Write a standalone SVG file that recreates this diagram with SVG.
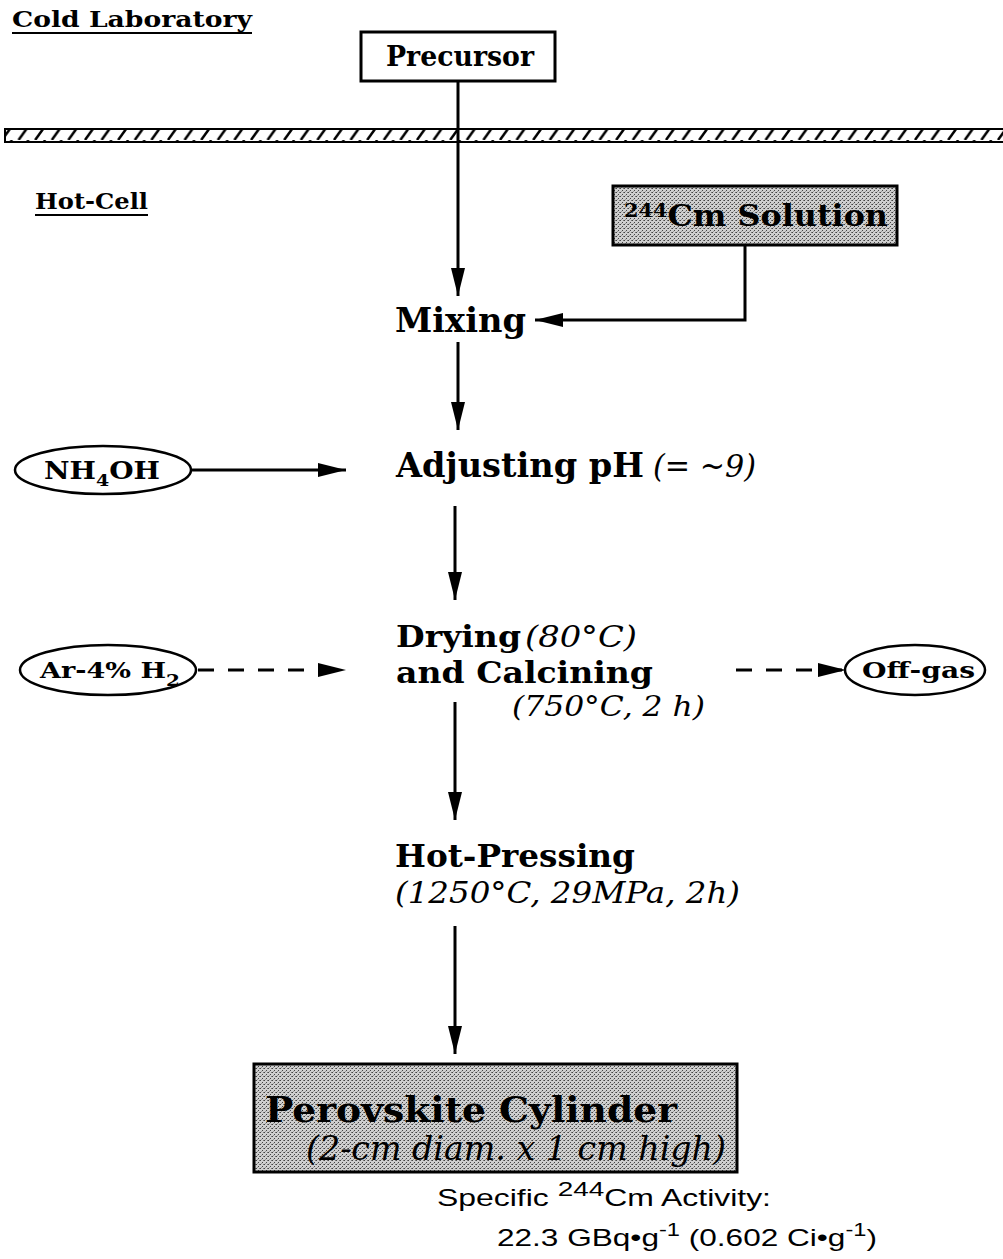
<svg xmlns="http://www.w3.org/2000/svg" width="1003" height="1259" viewBox="0 0 1003 1259">
<style>
.lbl{font-family:"DejaVu Serif","Liberation Serif",serif;font-weight:bold;fill:#000}
.it{font-family:"DejaVu Serif","Liberation Serif",serif;font-style:italic;font-weight:normal;fill:#000}
.sans{font-family:"Liberation Sans",Arial,sans-serif;fill:#000}
.ln{stroke:#000;stroke-width:3;fill:none}
.dash{stroke:#000;stroke-width:3;fill:none;stroke-dasharray:16 14}
.box{stroke:#000;stroke-width:3}
</style>
<defs>
<marker id="ah" markerWidth="30" markerHeight="14" refX="28" refY="7" orient="auto" markerUnits="userSpaceOnUse">
<path d="M0,0 L28,7 L0,14 Z" fill="#000"/>
</marker>
<pattern id="hatch" width="16.6" height="14" patternUnits="userSpaceOnUse">
<rect width="16.6" height="14" fill="#fff"/>
<line x1="2" y1="14" x2="12" y2="0" stroke="#000" stroke-width="2.5"/>
</pattern>
<pattern id="stip" width="4" height="4" patternUnits="userSpaceOnUse">
<rect width="4" height="4" fill="#cfcfcf"/>
<rect x="0" y="0" width="1" height="1" fill="#444"/>
<rect x="2" y="2" width="1" height="1" fill="#444"/>
<rect x="3" y="0" width="1" height="1" fill="#777"/>
<rect x="1" y="3" width="1" height="1" fill="#999"/>
</pattern>
</defs>
<rect width="1003" height="1259" fill="#fff"/>

<g id="zones">
<text class="lbl" x="12" y="27" font-size="23" textLength="240" lengthAdjust="spacingAndGlyphs">Cold Laboratory</text>
<line x1="12" y1="33" x2="252" y2="33" stroke="#000" stroke-width="2"/>
<rect x="5" y="129" width="1000" height="13" fill="url(#hatch)" stroke="#000" stroke-width="2"/>
<text class="lbl" x="35" y="209" font-size="23" textLength="113" lengthAdjust="spacingAndGlyphs">Hot-Cell</text>
<line x1="35" y1="215" x2="148" y2="215" stroke="#000" stroke-width="2"/>
</g>

<g id="precursor">
<rect x="361" y="32" width="194" height="49" fill="#fff" class="box"/>
<text class="lbl" x="460" y="66" font-size="27" text-anchor="middle" textLength="148" lengthAdjust="spacingAndGlyphs">Precursor</text>
</g>

<g id="cm-solution">
<rect x="613" y="186" width="284" height="59" fill="url(#stip)" class="box"/>
<text class="lbl" x="624" y="226" font-size="29" textLength="264" lengthAdjust="spacingAndGlyphs"><tspan font-size="19" dy="-9">244</tspan><tspan dy="9">Cm Solution</tspan></text>
</g>

<g id="mixing">
<text class="lbl" x="395" y="332" font-size="34" textLength="131" lengthAdjust="spacingAndGlyphs">Mixing</text>
</g>

<g id="adjusting">
<text class="lbl" x="396" y="477" font-size="34" textLength="248" lengthAdjust="spacingAndGlyphs">Adjusting pH</text>
<text class="it" x="653" y="477" font-size="32" textLength="103" lengthAdjust="spacingAndGlyphs">(= ~9)</text>
</g>

<g id="nh4oh">
<ellipse cx="103" cy="470" rx="88" ry="24" fill="#fff" stroke="#000" stroke-width="2.5"/>
<text class="lbl" x="44" y="479" font-size="25" textLength="116" lengthAdjust="spacingAndGlyphs">NH<tspan font-size="17" dy="7">4</tspan><tspan dy="-7">OH</tspan></text>
</g>

<g id="drying">
<text class="lbl" x="396" y="647" font-size="30" textLength="125" lengthAdjust="spacingAndGlyphs">Drying</text>
<text class="it" x="525" y="647" font-size="29" textLength="112" lengthAdjust="spacingAndGlyphs">(80°C)</text>
<text class="lbl" x="396" y="683" font-size="30" textLength="257" lengthAdjust="spacingAndGlyphs">and Calcining</text>
<text class="it" x="512" y="716" font-size="27" textLength="193" lengthAdjust="spacingAndGlyphs">(750°C, 2 h)</text>
</g>

<g id="ar-h2">
<ellipse cx="108" cy="670" rx="88" ry="25" fill="#fff" stroke="#000" stroke-width="2.5"/>
<text class="lbl" x="40" y="678" font-size="23" textLength="140" lengthAdjust="spacingAndGlyphs">Ar-4% H<tspan font-size="17" dy="8">2</tspan></text>
</g>

<g id="off-gas">
<ellipse cx="915" cy="670" rx="70" ry="25" fill="#fff" stroke="#000" stroke-width="2.5"/>
<text class="lbl" x="862" y="678" font-size="23" textLength="113" lengthAdjust="spacingAndGlyphs">Off-gas</text>
</g>

<g id="hot-pressing">
<text class="lbl" x="395" y="867" font-size="32" textLength="240" lengthAdjust="spacingAndGlyphs">Hot-Pressing</text>
<text class="it" x="395" y="903" font-size="29" textLength="345" lengthAdjust="spacingAndGlyphs">(1250°C, 29MPa, 2h)</text>
</g>

<g id="perovskite">
<rect x="254" y="1064" width="483" height="108" fill="url(#stip)" class="box"/>
<text class="lbl" x="265" y="1122" font-size="36" textLength="412" lengthAdjust="spacingAndGlyphs">Perovskite Cylinder</text>
<text class="it" x="306" y="1160" font-size="33" textLength="420" lengthAdjust="spacingAndGlyphs">(2-cm diam. x 1 cm high)</text>
</g>

<g id="activity">
<text class="sans" x="437" y="1206" font-size="24" textLength="334" lengthAdjust="spacingAndGlyphs">Specific <tspan font-size="21" dy="-10">244</tspan><tspan dy="10">Cm Activity:</tspan></text>
<text class="sans" x="497" y="1246" font-size="24" textLength="380" lengthAdjust="spacingAndGlyphs">22.3 GBq•g<tspan font-size="18" dy="-10">-1</tspan><tspan dy="10"> (0.602 Ci•g</tspan><tspan font-size="18" dy="-10">-1</tspan><tspan dy="10">)</tspan></text>
</g>

<g id="connectors">
<line x1="458" y1="81" x2="458" y2="296" class="ln" marker-end="url(#ah)"/>
<polyline points="745,245 745,320 535,320" class="ln" marker-end="url(#ah)"/>
<line x1="458" y1="342" x2="458" y2="430" class="ln" marker-end="url(#ah)"/>
<line x1="192" y1="470" x2="346" y2="470" class="ln" marker-end="url(#ah)"/>
<line x1="455" y1="506" x2="455" y2="600" class="ln" marker-end="url(#ah)"/>
<line x1="198" y1="670" x2="346" y2="670" class="dash" marker-end="url(#ah)"/>
<line x1="736" y1="670" x2="846" y2="670" class="dash" marker-end="url(#ah)"/>
<line x1="455" y1="702" x2="455" y2="820" class="ln" marker-end="url(#ah)"/>
<line x1="455" y1="926" x2="455" y2="1054" class="ln" marker-end="url(#ah)"/>
</g>
</svg>
